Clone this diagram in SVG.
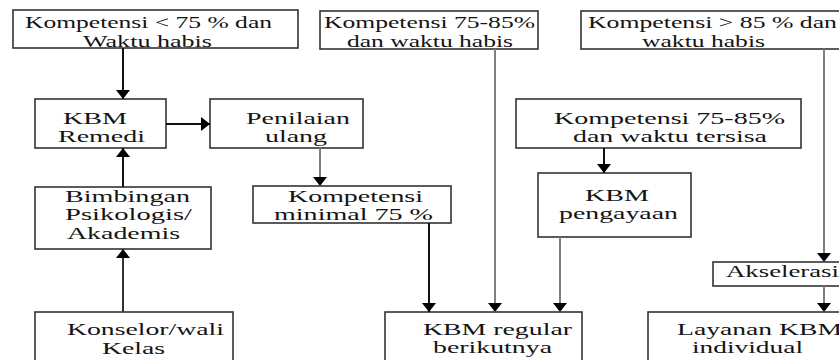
<svg xmlns="http://www.w3.org/2000/svg" width="839" height="360" viewBox="0 0 839 360">
<defs>
<style>
.box{fill:#fff;stroke:#333;stroke-width:1.6}
.t{font-family:"Liberation Serif","Times New Roman",serif;font-size:16.5px;fill:#141414}
.k{stroke:#111;stroke-width:2;fill:none}
.g{stroke:#808080;stroke-width:2;fill:none}
</style>
<marker id="ah" viewBox="0 0 10 10" refX="10" refY="5" markerWidth="9" markerHeight="14" markerUnits="userSpaceOnUse" orient="auto" preserveAspectRatio="none">
<path d="M0,0 L10,5 L0,10 z" fill="#000"/>
</marker>
</defs>
<rect width="839" height="360" fill="#fff"/>
<g id="n-lt75">
<rect class="box" x="13" y="10" width="285" height="38"/>
<text class="t" x="25" y="28" textLength="247" lengthAdjust="spacingAndGlyphs">Kompetensi &lt; 75 % dan</text>
<text class="t" x="83" y="46.5" textLength="129" lengthAdjust="spacingAndGlyphs">Waktu habis</text>
</g>
<g id="n-7585habis">
<rect class="box" x="320" y="11" width="218" height="38"/>
<text class="t" x="324" y="28" textLength="211" lengthAdjust="spacingAndGlyphs">Kompetensi 75-85%</text>
<text class="t" x="347" y="46.5" textLength="166" lengthAdjust="spacingAndGlyphs">dan waktu habis</text>
</g>
<g id="n-gt85">
<rect class="box" x="581" y="11" width="270" height="38"/>
<text class="t" x="588" y="28" textLength="249" lengthAdjust="spacingAndGlyphs">Kompetensi &gt; 85 % dan</text>
<text class="t" x="642" y="46.5" textLength="123" lengthAdjust="spacingAndGlyphs">waktu habis</text>
</g>
<g id="n-remedi">
<rect class="box" x="35" y="99" width="131" height="49"/>
<text class="t" x="63" y="124" textLength="64" lengthAdjust="spacingAndGlyphs">KBM</text>
<text class="t" x="58" y="142" textLength="87" lengthAdjust="spacingAndGlyphs">Remedi</text>
</g>
<g id="n-penilaian">
<rect class="box" x="210" y="99" width="153" height="49"/>
<text class="t" x="246" y="124" textLength="104" lengthAdjust="spacingAndGlyphs">Penilaian</text>
<text class="t" x="265" y="142" textLength="62" lengthAdjust="spacingAndGlyphs">ulang</text>
</g>
<g id="n-tersisa">
<rect class="box" x="516" y="99" width="285" height="49"/>
<text class="t" x="554" y="124" textLength="231" lengthAdjust="spacingAndGlyphs">Kompetensi 75-85%</text>
<text class="t" x="573" y="142" textLength="194" lengthAdjust="spacingAndGlyphs">dan waktu tersisa</text>
</g>
<g id="n-bimbingan">
<rect class="box" x="35" y="187" width="176" height="62"/>
<text class="t" x="65" y="202" textLength="125" lengthAdjust="spacingAndGlyphs">Bimbingan</text>
<text class="t" x="65" y="220" textLength="127" lengthAdjust="spacingAndGlyphs">Psikologis/</text>
<text class="t" x="67" y="239" textLength="113" lengthAdjust="spacingAndGlyphs">Akademis</text>
</g>
<g id="n-minimal">
<rect class="box" x="253" y="186" width="198" height="37"/>
<text class="t" x="288" y="202" textLength="135" lengthAdjust="spacingAndGlyphs">Kompetensi</text>
<text class="t" x="274" y="220" textLength="159" lengthAdjust="spacingAndGlyphs">minimal 75 %</text>
</g>
<g id="n-pengayaan">
<rect class="box" x="538" y="173" width="153" height="64"/>
<text class="t" x="585" y="201" textLength="64" lengthAdjust="spacingAndGlyphs">KBM</text>
<text class="t" x="559" y="219" textLength="119" lengthAdjust="spacingAndGlyphs">pengayaan</text>
</g>
<g id="n-akselerasi">
<rect class="box" x="713" y="262" width="140" height="24"/>
<text class="t" x="726" y="277" textLength="113" lengthAdjust="spacingAndGlyphs">Akselerasi</text>
</g>
<g id="n-konselor">
<rect class="box" x="35" y="312" width="198" height="60"/>
<text class="t" x="67" y="335" textLength="157" lengthAdjust="spacingAndGlyphs">Konselor/wali</text>
<text class="t" x="102" y="354" textLength="63" lengthAdjust="spacingAndGlyphs">Kelas</text>
</g>
<g id="n-regular">
<rect class="box" x="385" y="312" width="197" height="60"/>
<text class="t" x="423" y="335" textLength="149" lengthAdjust="spacingAndGlyphs">KBM regular</text>
<text class="t" x="433" y="353" textLength="119" lengthAdjust="spacingAndGlyphs">berikutnya</text>
</g>
<g id="n-layanan">
<rect class="box" x="648" y="312" width="205" height="60"/>
<text class="t" x="677" y="335" textLength="165" lengthAdjust="spacingAndGlyphs">Layanan KBM</text>
<text class="t" x="692" y="353" textLength="111" lengthAdjust="spacingAndGlyphs">individual</text>
</g>
<g id="connectors">
<line class="k" x1="123" y1="48" x2="123" y2="99" marker-end="url(#ah)"/>
<line class="k" x1="166" y1="124" x2="210" y2="124" marker-end="url(#ah)"/>
<line class="g" x1="320" y1="148" x2="320" y2="186" marker-end="url(#ah)"/>
<line class="k" x1="123" y1="187" x2="123" y2="148" marker-end="url(#ah)"/>
<line class="k" x1="123" y1="312" x2="123" y2="249" marker-end="url(#ah)" style="stroke:#333"/>
<line class="k" x1="429" y1="223" x2="429" y2="312" marker-end="url(#ah)"/>
<line class="g" x1="495" y1="49" x2="495" y2="312" marker-end="url(#ah)"/>
<line class="g" x1="560" y1="237" x2="560" y2="312" marker-end="url(#ah)"/>
<line class="k" x1="604" y1="148" x2="604" y2="173" marker-end="url(#ah)"/>
<line class="g" x1="824" y1="49" x2="824" y2="262" marker-end="url(#ah)"/>
<line class="g" x1="824" y1="286" x2="824" y2="312" marker-end="url(#ah)"/>
</g>
</svg>
